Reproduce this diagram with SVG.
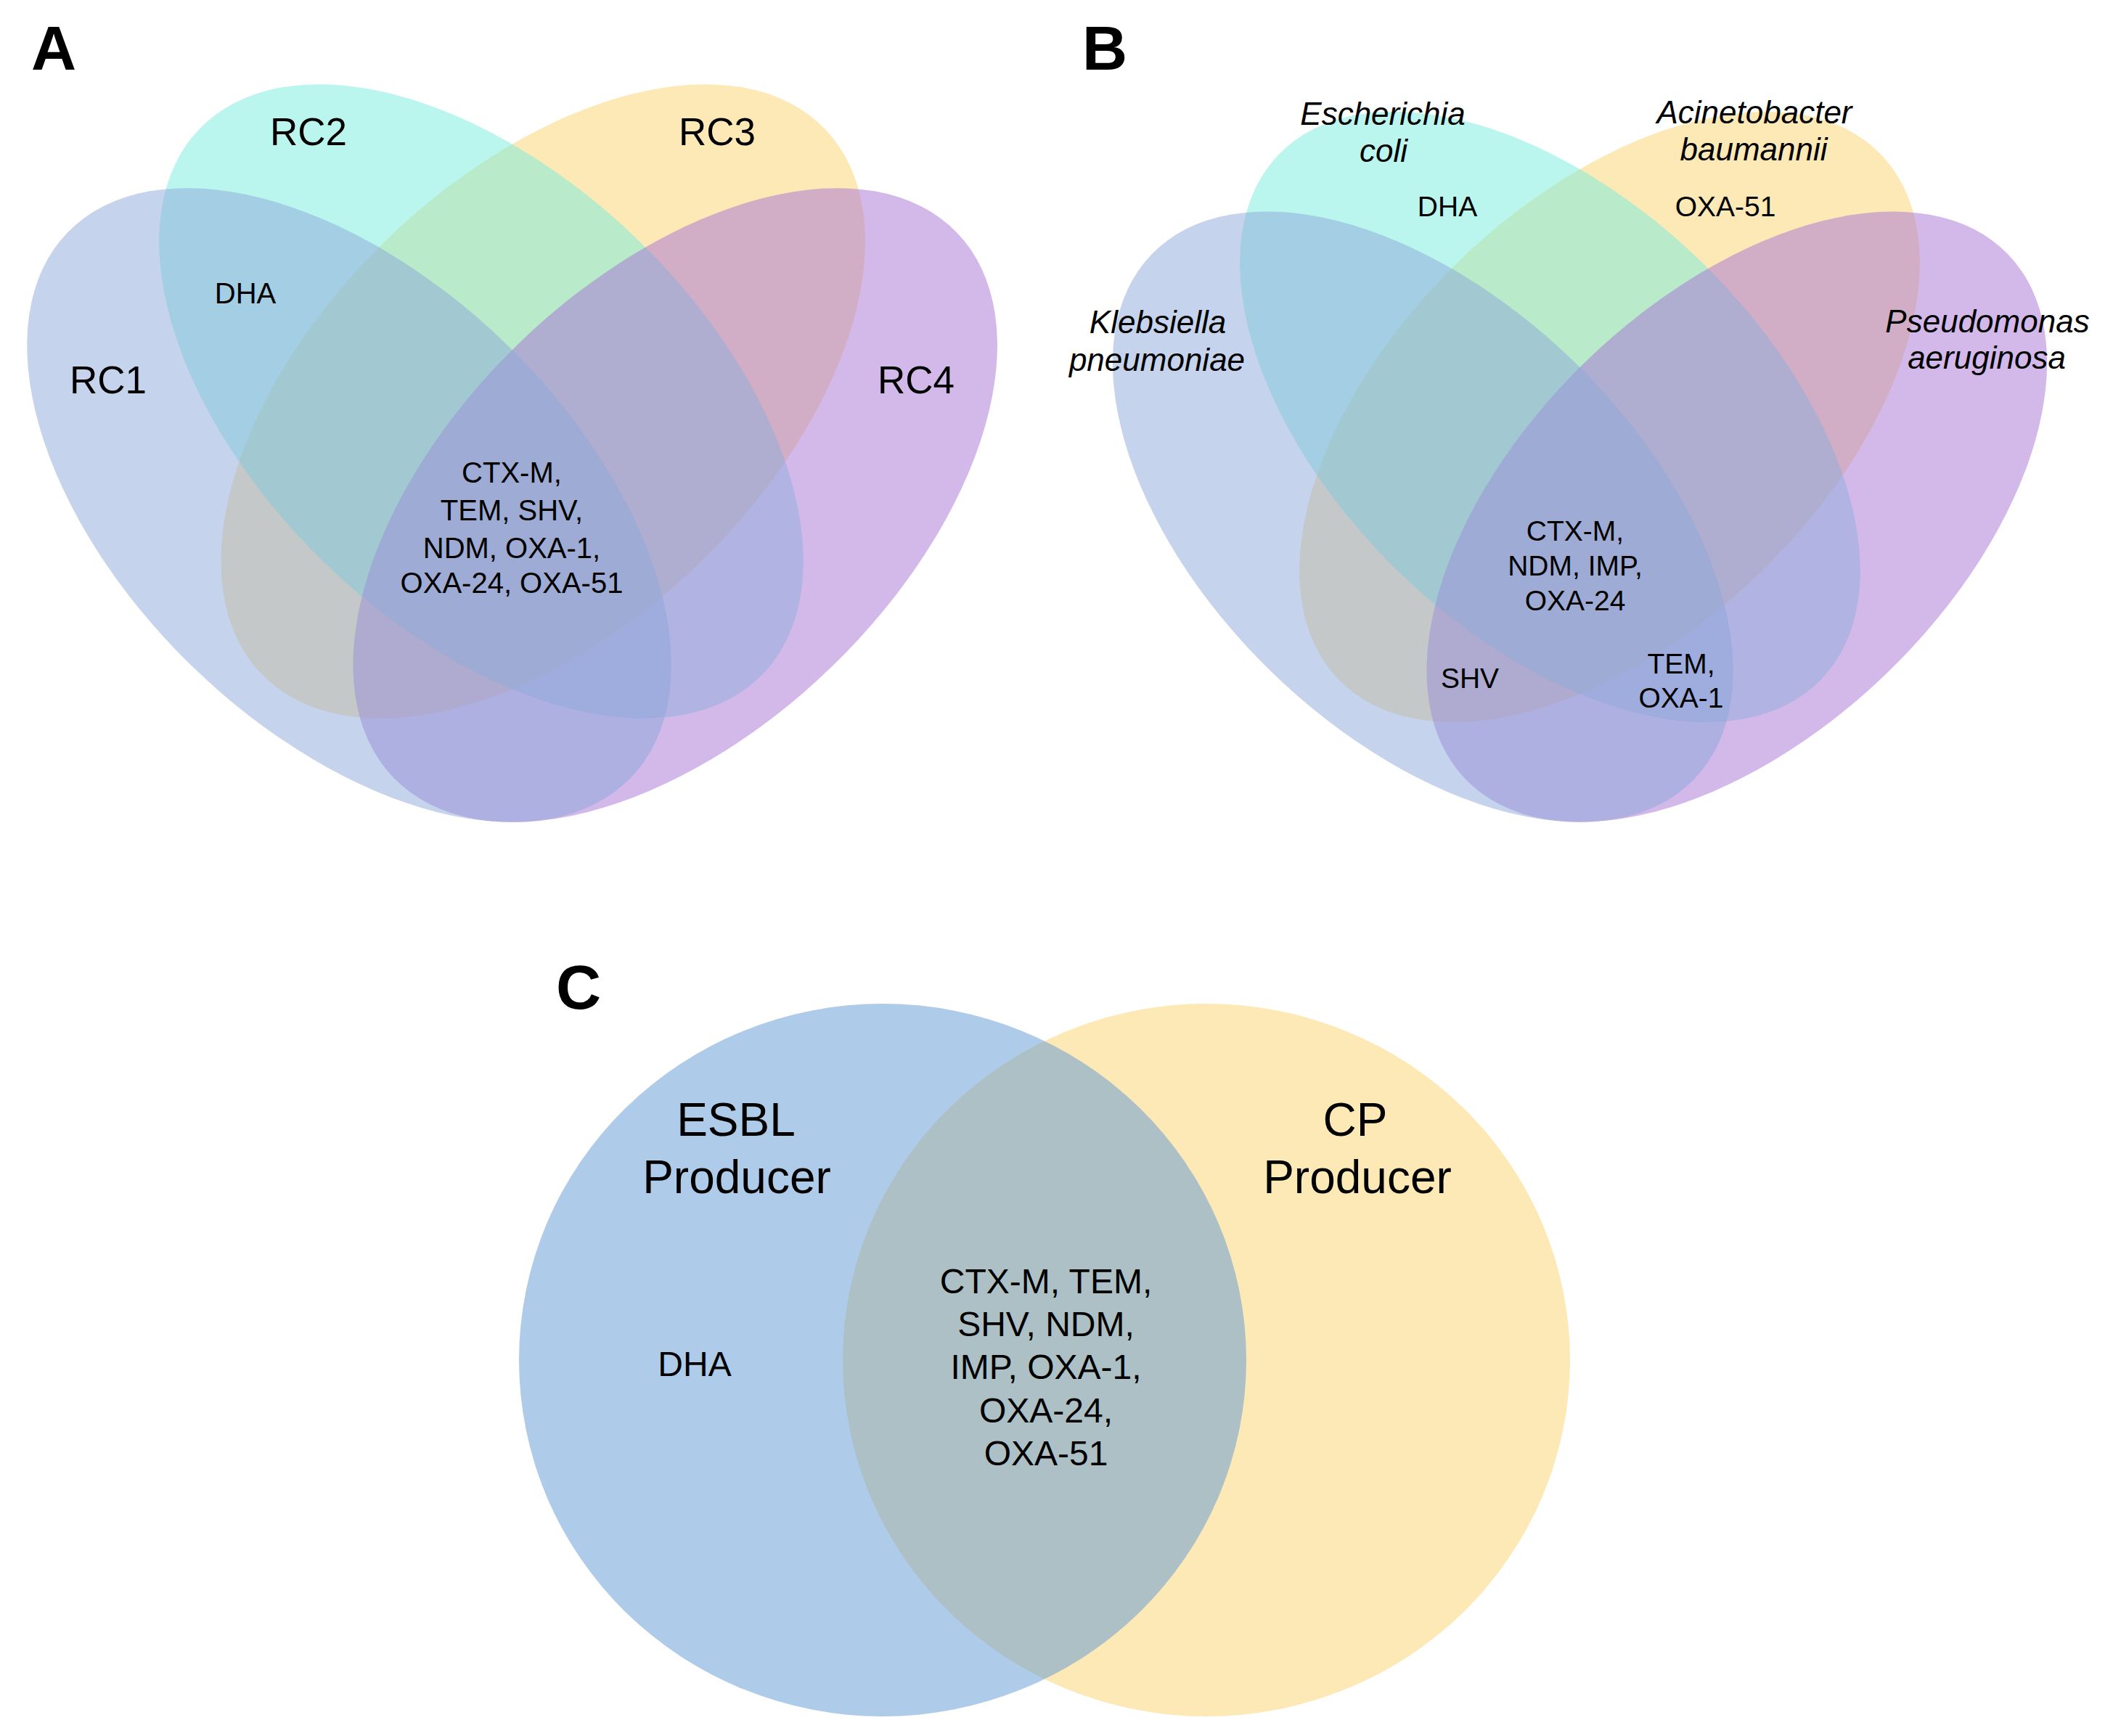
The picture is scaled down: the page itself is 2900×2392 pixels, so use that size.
<svg xmlns="http://www.w3.org/2000/svg" width="2900" height="2392" viewBox="0 0 2900 2392">
<style>
text { font-family: "Liberation Sans", Arial, Helvetica, sans-serif; fill: #000000; }
.panel { font-weight: bold; font-size: 86px; }
.set { font-size: 53px; text-anchor: middle; }
.gene { font-size: 40px; text-anchor: middle; }
.geneB { font-size: 39px; text-anchor: middle; }
.sp { font-size: 44px; font-style: italic; text-anchor: middle; }
.big { font-size: 64px; text-anchor: middle; }
.geneC { font-size: 48px; text-anchor: middle; }
.e { fill-opacity: 0.5; stroke: none; }
.c1 { fill: #8ba7d9; }
.c2 { fill: #75ebdd; }
.c3 { fill: #fbd36d; }
.c4 { fill: #a771d5; }
.cb { fill: #5d97d3; }
</style>
<rect x="0" y="0" width="2900" height="2392" fill="#ffffff"/>

<!-- Panel A -->
<g id="panelA-sets">
  <g id="A-RC3"><ellipse class="e c3" cx="748.2" cy="553" rx="540" ry="310" transform="rotate(-44.1 748.2 553)"/></g>
  <g id="A-RC2"><ellipse class="e c2" cx="663" cy="553" rx="540" ry="310" transform="rotate(44.1 663 553)"/></g>
  <g id="A-RC4"><ellipse class="e c4" cx="930.2" cy="696" rx="540" ry="310" transform="rotate(-44.1 930.2 696)"/></g>
  <g id="A-RC1"><ellipse class="e c1" cx="481" cy="696" rx="540" ry="310" transform="rotate(44.1 481 696)"/></g>
</g>
<g id="panelA-labels">
  <text class="panel" x="43" y="96">A</text>
  <g id="A-label-RC1"><text class="set" x="149" y="542">RC1</text></g>
  <g id="A-label-RC2"><text class="set" x="425" y="200">RC2</text></g>
  <g id="A-label-RC3"><text class="set" x="988" y="200">RC3</text></g>
  <g id="A-label-RC4"><text class="set" x="1262" y="542">RC4</text></g>
  <g id="A-region-RC1-RC2"><text class="gene" x="338" y="418">DHA</text></g>
  <g id="A-region-all">
    <text class="gene" x="705" y="665">CTX-M,</text>
    <text class="gene" x="705" y="717">TEM, SHV,</text>
    <text class="gene" x="705" y="769">NDM, OXA-1,</text>
    <text class="gene" x="705" y="817">OXA-24, OXA-51</text>
  </g>
</g>

<!-- Panel B -->
<g id="panelB-sets" transform="translate(2176.5 1131) scale(0.963) translate(-705.6 -1131)">
  <g id="B-Abaumannii"><ellipse class="e c3" cx="748.2" cy="553" rx="540" ry="310" transform="rotate(-44.1 748.2 553)"/></g>
  <g id="B-Ecoli"><ellipse class="e c2" cx="663" cy="553" rx="540" ry="310" transform="rotate(44.1 663 553)"/></g>
  <g id="B-Paeruginosa"><ellipse class="e c4" cx="930.2" cy="696" rx="540" ry="310" transform="rotate(-44.1 930.2 696)"/></g>
  <g id="B-Kpneumoniae"><ellipse class="e c1" cx="481" cy="696" rx="540" ry="310" transform="rotate(44.1 481 696)"/></g>
</g>
<g id="panelB-labels">
  <text class="panel" x="1491" y="96">B</text>
  <g id="B-label-Ecoli">
    <text class="sp" x="1905" y="172">Escherichia</text>
    <text class="sp" x="1906" y="223">coli</text>
  </g>
  <g id="B-label-Abaumannii">
    <text class="sp" x="2417" y="170">Acinetobacter</text>
    <text class="sp" x="2416" y="221">baumannii</text>
  </g>
  <g id="B-label-Kpneumoniae">
    <text class="sp" x="1595" y="459">Klebsiella</text>
    <text class="sp" x="1594" y="511">pneumoniae</text>
  </g>
  <g id="B-label-Paeruginosa">
    <text class="sp" x="2738" y="458">Pseudomonas</text>
    <text class="sp" x="2737" y="508">aeruginosa</text>
  </g>
  <g id="B-region-Ecoli"><text class="geneB" x="1994" y="298">DHA</text></g>
  <g id="B-region-Abaumannii"><text class="geneB" x="2377" y="298">OXA-51</text></g>
  <g id="B-region-all">
    <text class="geneB" x="2170" y="745">CTX-M,</text>
    <text class="geneB" x="2170" y="793">NDM, IMP,</text>
    <text class="geneB" x="2170" y="841">OXA-24</text>
  </g>
  <g id="B-region-SHV"><text class="geneB" x="2025" y="948">SHV</text></g>
  <g id="B-region-TEM">
    <text class="geneB" x="2316" y="928">TEM,</text>
    <text class="geneB" x="2316" y="975">OXA-1</text>
  </g>
</g>

<!-- Panel C -->
<g id="panelC-sets">
  <g id="C-CP"><ellipse class="e c3" cx="1662" cy="1874" rx="501" ry="491"/></g>
  <g id="C-ESBL"><ellipse class="e cb" cx="1216" cy="1874" rx="501" ry="491"/></g>
</g>
<g id="panelC-labels">
  <text class="panel" x="766" y="1390">C</text>
  <g id="C-label-ESBL">
    <text class="big" x="1014" y="1565">ESBL</text>
    <text class="big" x="1015" y="1644">Producer</text>
  </g>
  <g id="C-label-CP">
    <text class="big" x="1867" y="1565">CP</text>
    <text class="big" x="1870" y="1644">Producer</text>
  </g>
  <g id="C-region-ESBL"><text class="geneC" x="957" y="1896">DHA</text></g>
  <g id="C-region-both">
    <text class="geneC" x="1441" y="1782">CTX-M, TEM,</text>
    <text class="geneC" x="1441" y="1841">SHV, NDM,</text>
    <text class="geneC" x="1441" y="1900">IMP, OXA-1,</text>
    <text class="geneC" x="1441" y="1960">OXA-24,</text>
    <text class="geneC" x="1441" y="2019">OXA-51</text>
  </g>
</g>
</svg>
